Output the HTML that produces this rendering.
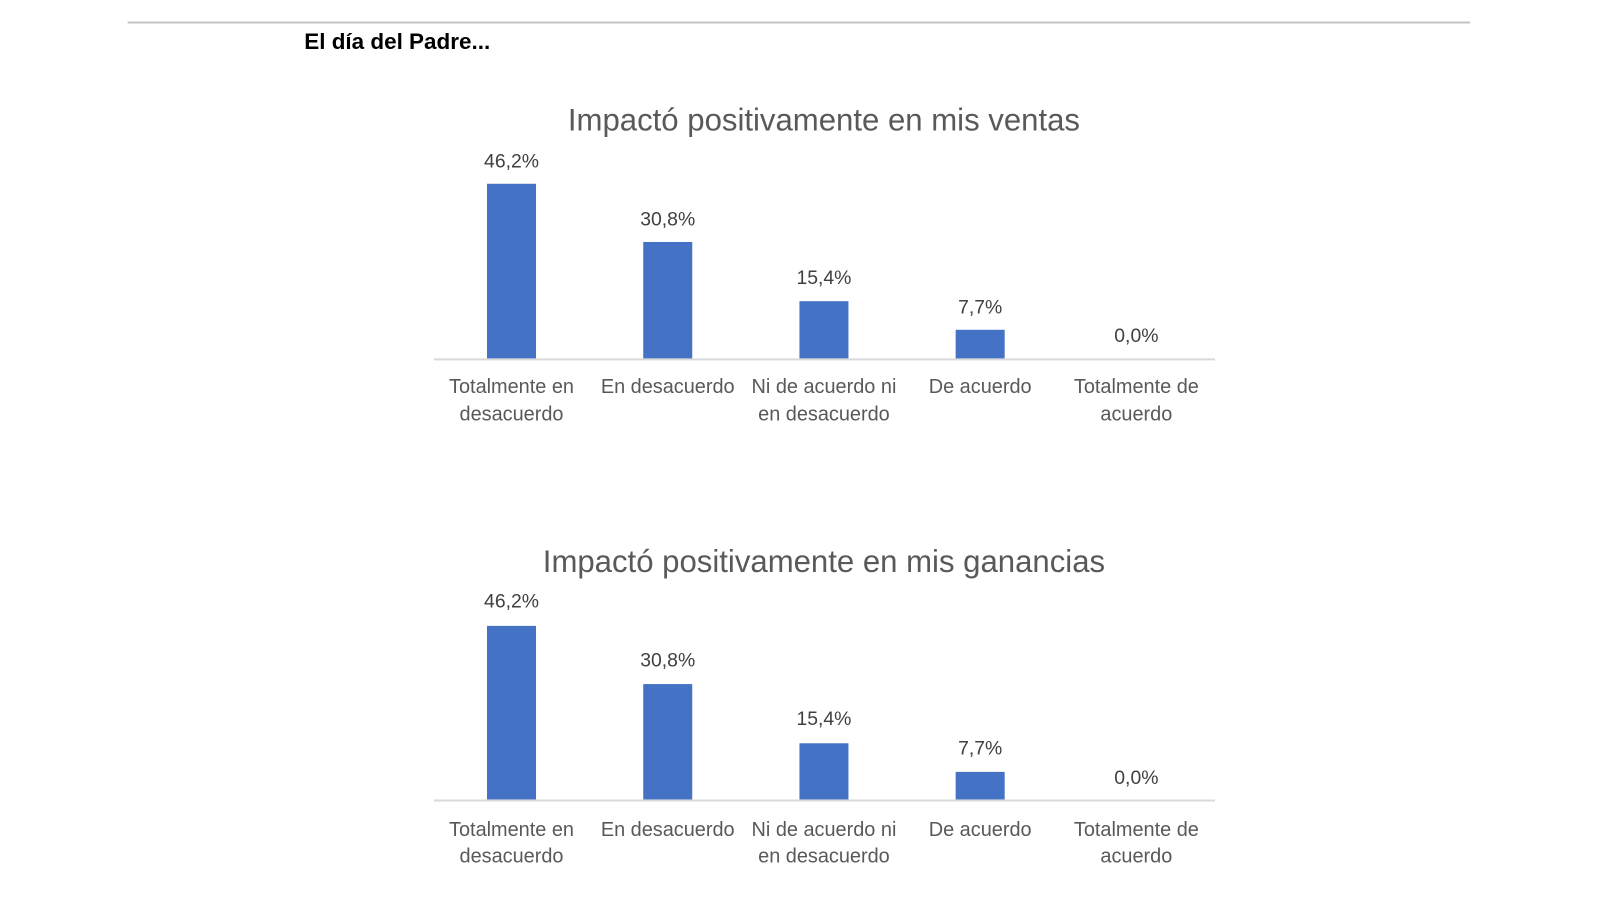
<!DOCTYPE html>
<html><head><meta charset="utf-8"><style>
body{margin:0;background:#fff;width:1600px;height:900px;overflow:hidden;font-family:"Liberation Sans",sans-serif;}
</style></head><body>
<svg width="1600" height="900" xmlns="http://www.w3.org/2000/svg" font-family="Liberation Sans, sans-serif">
<g transform="scale(1.021)">
<line x1="125" y1="22" x2="1440" y2="22" stroke="#c4c4c4" stroke-width="2"/>
<text x="298" y="48" font-size="22" font-weight="bold" fill="#000">El día del Padre...</text>
<g>
<text x="807" y="128" font-size="30.5" fill="#595959" text-anchor="middle">Impactó positivamente en mis ventas</text>
<line x1="425" y1="352" x2="1190" y2="352" stroke="#d9d9d9" stroke-width="2"/>
<g fill="#4472c4">
<rect x="477" y="180" width="48" height="171"/>
<rect x="630" y="237" width="48" height="114"/>
<rect x="783" y="295" width="48" height="56"/>
<rect x="936" y="323" width="48" height="28"/>
</g>
<g font-size="19" fill="#404040" text-anchor="middle">
<text x="501" y="164">46,2%</text>
<text x="654" y="221">30,8%</text>
<text x="807" y="278">15,4%</text>
<text x="960" y="307">7,7%</text>
<text x="1113" y="335">0,0%</text>
</g>
<g font-size="19.5" fill="#595959" text-anchor="middle">
<text x="501" y="385">Totalmente en</text><text x="501" y="412">desacuerdo</text>
<text x="654" y="385">En desacuerdo</text>
<text x="807" y="385">Ni de acuerdo ni</text><text x="807" y="412">en desacuerdo</text>
<text x="960" y="385">De acuerdo</text>
<text x="1113" y="385">Totalmente de</text><text x="1113" y="412">acuerdo</text>
</g>
</g>
<g transform="translate(0,432)">
<text x="807" y="128" font-size="30.5" fill="#595959" text-anchor="middle">Impactó positivamente en mis ganancias</text>
<line x1="425" y1="352" x2="1190" y2="352" stroke="#d9d9d9" stroke-width="2"/>
<g fill="#4472c4">
<rect x="477" y="181" width="48" height="170"/>
<rect x="630" y="238" width="48" height="113"/>
<rect x="783" y="296" width="48" height="55"/>
<rect x="936" y="324" width="48" height="27"/>
</g>
<g font-size="19" fill="#404040" text-anchor="middle">
<text x="501" y="163">46,2%</text>
<text x="654" y="221">30,8%</text>
<text x="807" y="278">15,4%</text>
<text x="960" y="307">7,7%</text>
<text x="1113" y="336">0,0%</text>
</g>
<g font-size="19.5" fill="#595959" text-anchor="middle">
<text x="501" y="387">Totalmente en</text><text x="501" y="413">desacuerdo</text>
<text x="654" y="387">En desacuerdo</text>
<text x="807" y="387">Ni de acuerdo ni</text><text x="807" y="413">en desacuerdo</text>
<text x="960" y="387">De acuerdo</text>
<text x="1113" y="387">Totalmente de</text><text x="1113" y="413">acuerdo</text>
</g>
</g>
</g>
</svg>
</body></html>
